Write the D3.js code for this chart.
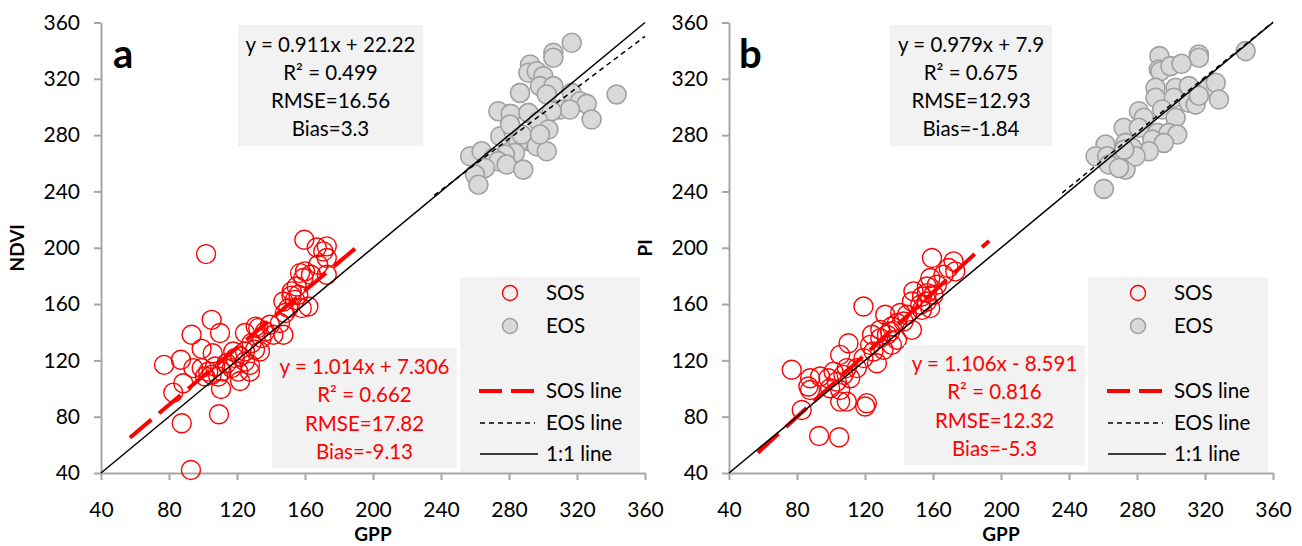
<!DOCTYPE html>
<html>
<head>
<meta charset="utf-8">
<script src="https://cdn.jsdelivr.net/npm/d3@7"></script>
<style>
  body { margin: 0; background: #fff; }
  svg { display: block; font-family: Lato, "Open Sans", sans-serif; }
</style>
</head>
<body>
<div id="chart"></div>
<script>
// axis ticks (both axes, both panels)
let ticks = [40, 80, 120, 160, 200, 240, 280, 320, 360];

// panel a: GPP vs NDVI
let sosA = [
  [101.8,195.5],[77.1,116.8],[87,120.4],[93.3,138.2],[99.2,128.2],[105.1,148.8],[110,139.4],
  [105.7,125.1],[88.4,103.8],[82.5,97.1],[87.5,75.3],[109.4,81.7],[110.6,99.7],[92.9,42.1],
  [94.3,114.5],[99.2,114.5],[103.1,112],[107.1,115.6],[105.1,109.7],[111,112],[113.9,118],
  [116.9,114.5],[121.8,105.4],[118.8,121.6],[121.8,122.7],[124.7,119.2],[127.6,116.8],
  [124.7,126.3],[124.7,139.4],[128.6,132.3],[132.5,142.9],[134.5,135.8],[136.5,140.5],
  [141.4,138.2],[147.3,138.2],[130.6,127.5],[133.5,126.3],[147.3,161.8],[150.2,157.1],
  [148.2,153.6],[152.2,169],[155.1,172.5],[156.1,166.6],[154.1,163],[158.1,157.1],[162,158.3],
  [157.1,182],[160,183.2],[159,178.5],[163.5,180.8],[159.6,205.7],[166.9,200.2],[172.8,201],
  [172.8,192.7],[170.8,197.4],[172.8,180.8],[167.8,187.9],[145.3,146.5],[139.4,145.3],
  [117.8,126.3],[120.8,112],[127.6,112],[109,108.5],[101.2,108.5],[152,166],[131,144]
];
let eosA = [
  [316.9,345.6],[306.1,338.5],[306.1,335],[292.4,330.2],[291.4,324.3],[296.3,325.4],[300.2,321.9],
  [298.2,314.8],[306.1,314.8],[286.5,310],[302.2,308.9],[343.3,308.9],[316.9,310],[321.8,304.1],
  [325.7,302.2],[310,298.2],[315.9,298.2],[305.1,297],[328.6,291.1],[273.7,297],[281,295.1],
  [291.4,295.8],[297.3,289.9],[303.2,284],[274.8,279.2],[282.6,282.8],[291.4,275.6],[285.5,274.5],
  [296.3,272.1],[302.2,268.5],[283.5,267.4],[277.6,266.2],[257.1,265],[263.9,268.5],[270.8,263.8],
  [273.7,261.4],[265.9,256.7],[260,252],[262,244.8],[278.6,259.1],[288.4,255.5],[287.5,280.4],
  [280.6,287.5],[298.2,280.4]
];

// panel b: GPP vs PI
let sosB = [
  [159.4,192.7],[172.1,190.3],[169.2,185.6],[173.1,183.2],[166.2,180.8],[158.4,178.5],[156.4,172.5],
  [162.3,173.7],[148.5,169],[153.5,165.4],[156.4,161.8],[158.4,157.1],[152.5,159.5],[147.6,161.8],
  [119.1,158.3],[131.9,152.4],[140.7,153.6],[144.7,152.4],[135.8,144.1],[138.8,146.5],[124.1,138.2],
  [129,135.8],[132.9,138.2],[138.8,134.6],[147.6,141.7],[110.3,132.2],[123,131],[125,126.3],
  [130.9,127.5],[127,118],[135.8,131],[105.4,123.9],[76.9,113.3],[87.7,107.3],[86.7,101.4],
  [87.7,99],[93.6,108.5],[98.5,107.3],[103.4,104.9],[107.3,109.7],[111.3,107.3],[115.2,114.5],
  [99.5,100.2],[105.4,99],[82.8,84.8],[109.3,90.7],[105.4,90.7],[121.1,89.6],[120.1,87.2],
  [93,66.3],[104.8,65.4],[109.3,114.5],[101.5,112],[119.1,121.6],[129,141.7],[156.4,167.8],
  [160.3,166.6],[153.5,155.9],[134.8,140.5],[142.7,147.6]
];
let eosB = [
  [343.9,339.7],[316.4,337.3],[316.4,335],[293.2,336.1],[292.8,326.6],[293.8,325.4],[299.7,329],
  [306.2,330.7],[290.9,313.6],[302.7,313.6],[310.5,314.8],[322.3,314.8],[326.3,317.2],[328.2,305.3],
  [290.9,306.5],[301.7,306.5],[310.5,303],[314.5,301.7],[281.1,297],[294.8,298.2],[302.7,292.3],
  [284,292.3],[272.2,285.2],[281.1,285.2],[291.9,281.6],[298.7,281.6],[303.7,280.4],[289,276.8],
  [295.8,274.5],[287,268.5],[273.3,274.5],[277.2,271],[261.5,273.3],[255.6,265],[262.5,265],
  [267.4,261.4],[263.4,259.1],[273.3,255.5],[269.4,256.7],[260.5,241.8],[279.2,265],[272.5,269.7],
  [316.4,308]
];

// fitted lines: slope, intercept, x-extent
let fitA = { sos: [1.014, 7.306, 57, 191], eos: [0.911, 22.22, 236, 360] };
let fitB = { sos: [1.106, -8.591, 57, 193], eos: [0.979, 7.9, 236, 360] };

let statsA = { eos: ["y = 0.911x + 22.22", "R² = 0.499", "RMSE=16.56", "Bias=3.3"],
               sos: ["y = 1.014x + 7.306", "R² = 0.662", "RMSE=17.82", "Bias=-9.13"] };
let statsB = { eos: ["y = 0.979x + 7.9", "R² = 0.675", "RMSE=12.93", "Bias=-1.84"],
               sos: ["y = 1.106x - 8.591", "R² = 0.816", "RMSE=12.32", "Bias=-5.3"] };

let width = 1302, height = 546;
let svg = d3.select("#chart").append("svg")
  .attr("width", width).attr("height", height);

let red = "#ff0000", grayFill = "#d9d9d9", grayStroke = "#a0a0a0", axisGray = "#a6a6a6";

function panel(cfg) {
  let x = d3.scaleLinear().domain([40, 360]).range([cfg.x0, cfg.x0 + 544]);
  let y = d3.scaleLinear().domain([40, 360]).range([473, 22.5]);
  let g = svg.append("g");

  // axes
  let xAxis = g.append("g")
    .attr("transform", `translate(0,${y(40)})`)
    .call(d3.axisBottom(x).tickValues(ticks).tickSize(7).tickSizeOuter(0).tickPadding(22));
  let yAxis = g.append("g")
    .attr("transform", `translate(${x(40)},0)`)
    .call(d3.axisLeft(y).tickValues(ticks).tickSize(7).tickSizeOuter(0).tickPadding(14));
  [xAxis, yAxis].forEach(a => {
    a.select(".domain").attr("stroke", axisGray).attr("stroke-width", 2);
    a.selectAll(".tick line").attr("stroke", axisGray).attr("stroke-width", 2);
    a.selectAll(".tick text").attr("fill", "#000")
      .attr("font-family", "Lato, sans-serif").attr("font-size", 21);
  });

  g.append("text")
    .attr("x", (x(40) + x(360)) / 2).attr("y", 541)
    .attr("text-anchor", "middle").attr("font-weight", "bold").attr("font-size", 19)
    .text("GPP");
  g.append("text")
    .attr("transform", `translate(${cfg.yTitleX},${(y(40) + y(360)) / 2}) rotate(-90)`)
    .attr("text-anchor", "middle").attr("font-weight", "bold").attr("font-size", 19)
    .text(cfg.yTitle);

  g.append("text")
    .attr("x", x(40) + cfg.labelDx).attr("y", 68)
    .attr("font-weight", "bold").attr("font-size", 40)
    .text(cfg.label);

  // points
  g.append("g").selectAll("circle").data(cfg.eos).join("circle")
    .attr("cx", d => x(d[0])).attr("cy", d => y(d[1])).attr("r", 9.5)
    .attr("fill", grayFill).attr("stroke", grayStroke).attr("stroke-width", 1.6);
  g.append("g").selectAll("circle").data(cfg.sos).join("circle")
    .attr("cx", d => x(d[0])).attr("cy", d => y(d[1])).attr("r", 9.5)
    .attr("fill", "none").attr("stroke", red).attr("stroke-width", 1.4);

  // lines
  let fitLine = f => [[f[2], f[0] * f[2] + f[1]], [f[3], f[0] * f[3] + f[1]]];
  let line = d3.line().x(d => x(d[0])).y(d => y(d[1]));
  g.append("path").attr("d", line(fitLine(cfg.fit.eos)))
    .attr("stroke", "#000").attr("stroke-width", 1.5).attr("stroke-dasharray", "5,4").attr("fill", "none");
  g.append("path").attr("d", line(fitLine(cfg.fit.sos)))
    .attr("stroke", red).attr("stroke-width", 4).attr("stroke-dasharray", "28,10").attr("fill", "none");
  g.append("path").attr("d", line([[40, 40], [360, 360]]))
    .attr("stroke", "#000").attr("stroke-width", 1.5).attr("fill", "none");

  // stats boxes
  function box(lines, cx, top, bottom, w, color, baselines) {
    g.append("rect").attr("x", cx - w / 2).attr("y", top)
      .attr("width", w).attr("height", bottom - top).attr("fill", "#f2f2f2");
    g.append("g").selectAll("text").data(lines).join("text")
      .attr("x", cx).attr("y", (d, i) => baselines[i])
      .attr("text-anchor", "middle").attr("font-size", 20.5).attr("fill", color)
      .text(d => d);
  }
  box(cfg.stats.eos, cfg.topCx, 25, 146, cfg.topW, "#000", [52, 80, 108, 136]);
  box(cfg.stats.sos, cfg.botCx, cfg.botTop, cfg.botTop + 120, cfg.botW, red,
      [0, 1, 2, 3].map(i => cfg.botTop + 26 + i * 28.3));

  // legend
  let lx = x(40) + 359;
  g.append("rect").attr("x", lx).attr("y", 277).attr("width", 180).attr("height", 195)
    .attr("fill", "#f2f2f2");
  let leg = g.append("g").attr("font-size", 20.5);
  leg.append("circle").attr("cx", lx + 50).attr("cy", 293).attr("r", 7.5)
    .attr("fill", "none").attr("stroke", red).attr("stroke-width", 1.4);
  leg.append("circle").attr("cx", lx + 50).attr("cy", 326).attr("r", 7.5)
    .attr("fill", grayFill).attr("stroke", grayStroke).attr("stroke-width", 1.6);
  leg.append("line").attr("x1", lx + 19).attr("x2", lx + 78).attr("y1", 391).attr("y2", 391)
    .attr("stroke", red).attr("stroke-width", 4).attr("stroke-dasharray", "23,9");
  leg.append("line").attr("x1", lx + 20).attr("x2", lx + 75).attr("y1", 423).attr("y2", 423)
    .attr("stroke", "#000").attr("stroke-width", 1.5).attr("stroke-dasharray", "5,4");
  leg.append("line").attr("x1", lx + 20).attr("x2", lx + 78).attr("y1", 454).attr("y2", 454)
    .attr("stroke", "#000").attr("stroke-width", 1.5);
  let legText = [["SOS", 293], ["EOS", 326], ["SOS line", 391], ["EOS line", 423], ["1:1 line", 454]];
  leg.selectAll("text").data(legText).join("text")
    .attr("x", lx + 86).attr("y", d => d[1] + 7)
    .text(d => d[0]);
}

panel({ x0: 101, label: "a", labelDx: 12, yTitle: "NDVI", yTitleX: 24,
        sos: sosA, eos: eosA, fit: fitA, stats: statsA,
        topCx: 330.5, topW: 185, botCx: 364.5, botW: 185, botTop: 348 });
panel({ x0: 729, label: "b", labelDx: 10, yTitle: "PI", yTitleX: 652,
        sos: sosB, eos: eosB, fit: fitB, stats: statsB,
        topCx: 971, topW: 162, botCx: 994.5, botW: 181, botTop: 345 });
</script>
</body>
</html>
